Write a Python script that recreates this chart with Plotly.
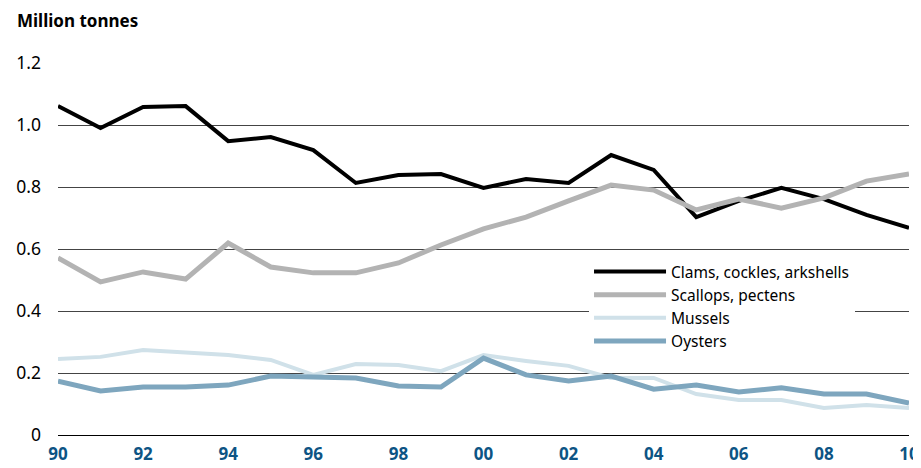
import plotly.graph_objects as go

years = list(range(1990, 2011))

clams = [1.061, 0.990, 1.058, 1.061, 0.948, 0.961, 0.919, 0.813, 0.839, 0.842, 0.797,
         0.826, 0.813, 0.903, 0.855, 0.703, 0.755, 0.797, 0.761, 0.710, 0.668]
scallops = [0.571, 0.494, 0.526, 0.503, 0.619, 0.542, 0.523, 0.523, 0.555, 0.613, 0.665,
            0.703, 0.755, 0.806, 0.790, 0.726, 0.761, 0.732, 0.765, 0.819, 0.842]
mussels = [0.245, 0.252, 0.274, 0.265, 0.258, 0.242, 0.194, 0.229, 0.226, 0.206, 0.258,
           0.239, 0.223, 0.184, 0.184, 0.132, 0.113, 0.113, 0.087, 0.097, 0.087]
oysters = [0.174, 0.142, 0.155, 0.155, 0.161, 0.190, 0.187, 0.184, 0.158, 0.155, 0.248,
           0.194, 0.174, 0.190, 0.148, 0.161, 0.139, 0.152, 0.132, 0.132, 0.103]

x_tickvals = list(range(1990, 2011, 2))
x_ticktext = ['90', '92', '94', '96', '98', '00', '02', '04', '06', '08', '10']
y_tickvals = [0, 0.2, 0.4, 0.6, 0.8, 1.0, 1.2]
y_ticktext = ['0', '0.2', '0.4', '0.6', '0.8', '1.0', '1.2']

FONT = 'Noto Sans'

fig = go.Figure()
fig.add_trace(go.Scatter(x=years, y=clams, mode='lines', name='Clams, cockles, arkshells',
                         line=dict(color='#000000', width=4)))
fig.add_trace(go.Scatter(x=years, y=scallops, mode='lines', name='Scallops, pectens',
                         line=dict(color='#b3b3b3', width=5)))
fig.add_trace(go.Scatter(x=years, y=mussels, mode='lines', name='Mussels',
                         line=dict(color='#d0e1e9', width=4)))
fig.add_trace(go.Scatter(x=years, y=oysters, mode='lines', name='Oysters',
                         line=dict(color='#7ea6be', width=5)))

# axis title sits above the plot, top-left
fig.add_annotation(text='<b>Million tonnes</b>', xref='paper', yref='paper',
                   x=-43/851, y=1 + 43/372, xanchor='left', yanchor='middle',
                   showarrow=False, font=dict(size=17, color='#000000', family=FONT))

# page body has an 8px margin, so the figure is a bit smaller than the window
fig.update_layout(
    width=913, height=460,
    margin=dict(l=50, r=12, t=55, b=33),
    paper_bgcolor='white', plot_bgcolor='white',
    font=dict(family=FONT, size=17, color='#000000'),
    showlegend=True,
    legend=dict(x=0.624, y=0.484, xanchor='left', yanchor='top',
                bgcolor='white', font=dict(size=15.5, color='#000000', family=FONT),
                itemwidth=72, tracegroupgap=0),
    xaxis=dict(range=[1990, 2010], tickvals=x_tickvals, ticktext=x_ticktext,
               showgrid=False, zeroline=False, showline=False, automargin=False,
               tickfont=dict(size=17, color='#0d5484', family=FONT, weight='bold'),
               ticklabelstandoff=7),
    yaxis=dict(range=[0, 1.2], tickvals=y_tickvals, ticktext=y_ticktext,
               showgrid=True, gridcolor='#444444', gridwidth=1,
               zeroline=True, zerolinecolor='#000000', zerolinewidth=1,
               showline=False, ticklabelstandoff=16, automargin=False,
               tickfont=dict(size=17.5, color='#000000', family=FONT)),
)

fig.write_html('out.html')
